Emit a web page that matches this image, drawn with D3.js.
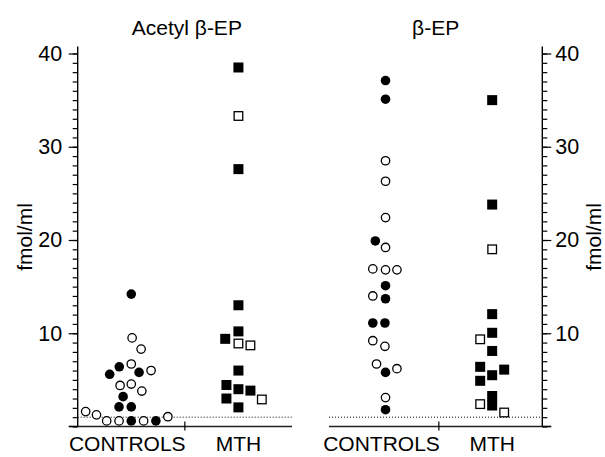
<!DOCTYPE html>
<html lang="en">
<head>
  <meta charset="UTF-8">
  <title>Acetyl beta-EP / beta-EP</title>
  <script src="https://d3js.org/d3.v7.min.js"></script>
  <style>
    body { margin: 0; background: #fff; }
    text { font-family: Arial, "Liberation Sans", sans-serif; fill: #000; }
    .dot-filled { fill: #000; }
    .dot-open { fill: #fff; stroke: #000; stroke-width: 1.3px; }
  </style>
</head>
<body>
<svg width="605" height="457"></svg>
<script>
  // groups on each panel
  const groups = ["CONTROLS", "MTH"];
  const panelTitles = ["Acetyl \u03b2-EP", "\u03b2-EP"];
  const yTickLabels = [10, 20, 30, 40];
  const detectionLimit = 1;

  // [value fmol/ml, filled (1) or open (0), swarm column]
  const acetylControls = [
    [1.6, 0, -3.8], [1.25, 0, -2.9], [0.6, 0, -2.05], [0.6, 0, -1.02], [0.6, 1, 0],
    [0.6, 0, 1.03], [0.6, 1, 2.05], [1.05, 0, 3.05], [2.1, 1, -1.02], [2.1, 1, 0],
    [3.2, 1, -0.68], [4.4, 0, -0.93], [4.55, 0, 0], [3.8, 0, 0.88], [5.6, 1, -1.8],
    [6.4, 1, -1.0], [6.7, 0, 0], [5.8, 1, 0.65], [6.0, 0, 1.65], [8.3, 0, 0.82],
    [9.5, 0, 0.07], [14.2, 1, 0]
  ];
  const acetylMTH = [
    [38.5, 1, 0], [33.3, 0, 0], [27.6, 1, 0], [13.0, 1, 0], [10.2, 1, 0],
    [9.4, 1, -1.1], [8.9, 0, 0], [8.7, 0, 1.0], [6.0, 1, 0], [4.45, 1, -1.0],
    [4.0, 1, 0], [3.85, 1, 1.0], [2.9, 0, 1.95], [3.0, 1, -1.0], [2.05, 1, 0]
  ];
  const betaControls = [
    [37.1, 1, 0], [35.1, 1, 0], [28.5, 0, 0], [26.3, 0, 0], [22.4, 0, 0],
    [19.9, 1, -0.85], [19.2, 0, 0], [16.9, 0, -1.06], [16.8, 0, 0], [16.8, 0, 0.95],
    [15.1, 1, 0], [14.0, 0, -1.06], [13.7, 1, 0], [11.1, 1, -1.06], [11.1, 1, -0.05],
    [9.2, 0, -1.06], [8.6, 0, -0.05], [6.7, 0, -0.75], [5.8, 1, 0], [6.2, 0, 0.95],
    [3.1, 0, 0], [1.8, 1, 0]
  ];
  const betaMTH = [
    [35.0, 1, 0], [23.8, 1, 0], [19.0, 0, 0], [12.05, 1, 0], [10.05, 1, 0],
    [9.35, 0, -1.0], [8.1, 1, 0], [6.4, 1, -1.0], [6.1, 1, 1.0], [5.5, 1, 0],
    [4.9, 1, -1.0], [3.27, 1, 0], [2.25, 1, 0], [2.4, 0, -1.0], [1.5, 0, 1.0]
  ];

  const panelData = [
    { title: panelTitles[0], controls: acetylControls, mth: acetylMTH },
    { title: panelTitles[1], controls: betaControls, mth: betaMTH }
  ];

  const svg = d3.select("svg");

  const y = d3.scaleLinear().domain([0, 40]).range([426.5, 53.5]);
  const col = d3.scaleLinear().domain([0, 1]).range([0, 12]);

  // panel extents: left axis on left panel, right axis on right panel
  const panels = [
    { x0: 77.7, x1: 292, align: 0.5, side: "left" },
    { x0: 329, x1: 542.3, align: 0.53, side: "right" }
  ];

  panels.forEach((p, i) => {
    const d = panelData[i];
    const x = d3.scalePoint().domain(groups).range([p.x0, p.x1]).padding(0.5).align(p.align);
    const g = svg.append("g");
    const mid = (p.x0 + p.x1) / 2;

    g.append("text")
      .attr("x", mid + (i === 0 ? 2 : 0))
      .attr("y", 35)
      .attr("text-anchor", "middle")
      .style("font-size", "21px")
      .text(d.title);

    // detection limit
    g.append("line")
      .attr("x1", p.x0).attr("x2", p.x1)
      .attr("y1", y(detectionLimit)).attr("y2", y(detectionLimit))
      .attr("stroke", "#000")
      .attr("stroke-width", 1)
      .attr("stroke-dasharray", "1,2");

    // baseline
    g.append("line")
      .attr("x1", p.x0).attr("x2", p.x1)
      .attr("y1", y(0)).attr("y2", y(0))
      .attr("stroke", "#222")
      .attr("stroke-width", 1.6);

    // separator tick between groups
    const sep = (x(groups[0]) + x(groups[1])) / 2;
    g.append("line")
      .attr("x1", sep).attr("x2", sep)
      .attr("y1", y(0) - 5).attr("y2", y(0) + 4)
      .attr("stroke", "#000")
      .attr("stroke-width", 1.2);

    groups.forEach(grp => {
      g.append("text")
        .attr("x", x(grp) - (grp === "CONTROLS" ? 4 : 0))
        .attr("y", 451)
        .attr("text-anchor", "middle")
        .style("font-size", "21px")
        .text(grp);
    });

    // y axis
    const isLeft = p.side === "left";
    const ax = isLeft ? p.x0 : p.x1;
    const minor = (isLeft ? d3.axisLeft(y) : d3.axisRight(y))
      .tickValues(d3.range(0, 41)).tickSize(5).tickFormat("").tickSizeOuter(0);
    const major = (isLeft ? d3.axisLeft(y) : d3.axisRight(y))
      .tickValues(yTickLabels).tickSize(9).tickPadding(isLeft ? 6.5 : 4).tickSizeOuter(0);

    const gMinor = g.append("g").attr("transform", `translate(${ax},0)`).call(minor);
    gMinor.select(".domain").remove();
    gMinor.selectAll("line").attr("stroke", "#000").attr("stroke-width", 1.2);

    const gMajor = g.append("g").attr("transform", `translate(${ax},0)`).call(major);
    gMajor.select(".domain").remove();
    gMajor.selectAll("line").attr("stroke", "#000").attr("stroke-width", 1.2);
    gMajor.selectAll("text")
      .style("font-size", "21.5px")
      .style("font-family", "Arial, 'Liberation Sans', sans-serif");

    // zero tick
    g.append("line")
      .attr("x1", ax).attr("x2", isLeft ? ax - 9 : ax + 9)
      .attr("y1", y(0)).attr("y2", y(0))
      .attr("stroke", "#000").attr("stroke-width", 1.6);

    g.append("line")
      .attr("x1", ax).attr("x2", ax)
      .attr("y1", y(0)).attr("y2", y(40.75))
      .attr("stroke", "#000")
      .attr("stroke-width", 1.4);

    g.append("text")
      .attr("transform", `translate(${isLeft ? 32 : 601},${y(20) - 3}) rotate(-90)`)
      .attr("text-anchor", "middle")
      .style("font-size", "21px")
      .text("fmol/ml");

    // controls: circles
    g.append("g").selectAll("circle")
      .data(d.controls)
      .join("circle")
      .attr("class", v => v[1] ? "dot-filled" : "dot-open")
      .attr("cx", v => x("CONTROLS") + col(v[2]))
      .attr("cy", v => y(v[0]))
      .attr("r", v => v[1] ? 4.8 : 4.2);

    // MTH: squares
    g.append("g").selectAll("rect")
      .data(d.mth)
      .join("rect")
      .attr("class", v => v[1] ? "dot-filled" : "dot-open")
      .attr("x", v => x("MTH") + col(v[2]) - (v[1] ? 5 : 4.3))
      .attr("y", v => y(v[0]) - (v[1] ? 5 : 4.3))
      .attr("width", v => v[1] ? 10 : 8.6)
      .attr("height", v => v[1] ? 10 : 8.6);
  });
</script>
</body>
</html>
